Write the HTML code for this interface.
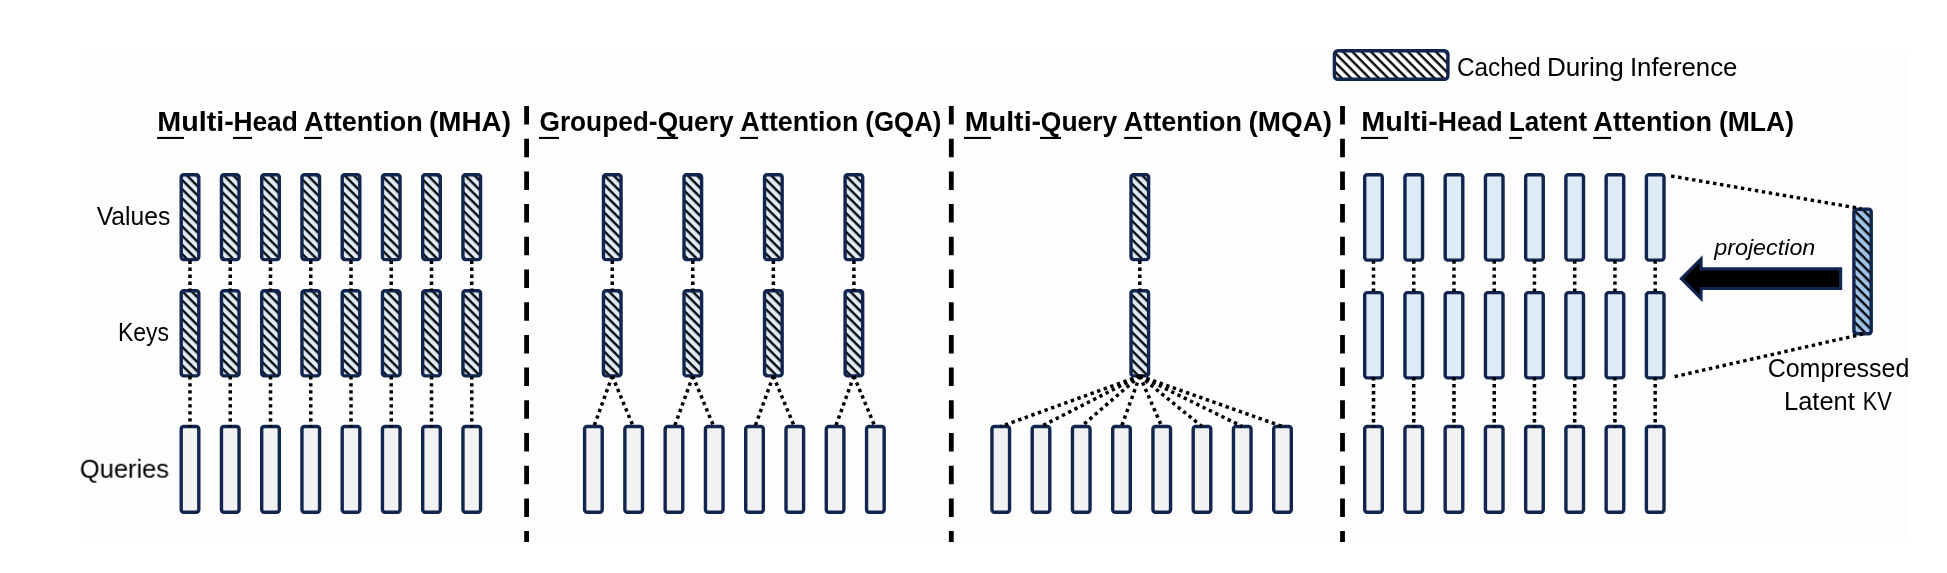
<!DOCTYPE html>
<html><head><meta charset="utf-8"><title>Attention variants</title>
<style>
html,body{margin:0;padding:0;background:#fff;}
body{width:1947px;height:573px;overflow:hidden;position:relative;}
svg{position:absolute;left:0;top:0;display:block;will-change:transform;}
text{font-family:"Liberation Sans",sans-serif;fill:#000;}
</style></head><body>
<svg width="1947" height="573" viewBox="0 0 1947 573">
<defs>
<pattern id="hb" patternUnits="userSpaceOnUse" width="6.558" height="10" patternTransform="rotate(-45)"><rect width="6.558" height="10" fill="#deeaf6"/><rect x="0.42" y="0" width="2.3" height="10" fill="#000"/></pattern>
<pattern id="hw" patternUnits="userSpaceOnUse" width="6.558" height="10" patternTransform="rotate(-45)"><rect width="6.558" height="10" fill="#fff"/><rect x="0.42" y="0" width="2.3" height="10" fill="#000"/></pattern>
<pattern id="hd" patternUnits="userSpaceOnUse" width="6.558" height="10" patternTransform="rotate(-45)"><rect width="6.558" height="10" fill="#9dc3e6"/><rect x="0.42" y="0" width="2.3" height="10" fill="#000"/></pattern>
</defs>
<rect x="0" y="0" width="1947" height="573" fill="#fff"/>
<rect x="80" y="49" width="1828" height="493.7" fill="#fdfdfd"/>
<rect x="181.20" y="174.80" width="17.60" height="84.80" rx="2.5" fill="url(#hb)" stroke="#11254f" stroke-width="3.4"/>
<rect x="181.20" y="290.70" width="17.60" height="85.20" rx="2.5" fill="url(#hb)" stroke="#11254f" stroke-width="3.4"/>
<rect x="181.20" y="426.50" width="17.60" height="85.80" rx="2.5" fill="#f2f2f2" stroke="#11254f" stroke-width="3.4"/>
<rect x="221.45" y="174.80" width="17.60" height="84.80" rx="2.5" fill="url(#hb)" stroke="#11254f" stroke-width="3.4"/>
<rect x="221.45" y="290.70" width="17.60" height="85.20" rx="2.5" fill="url(#hb)" stroke="#11254f" stroke-width="3.4"/>
<rect x="221.45" y="426.50" width="17.60" height="85.80" rx="2.5" fill="#f2f2f2" stroke="#11254f" stroke-width="3.4"/>
<rect x="261.70" y="174.80" width="17.60" height="84.80" rx="2.5" fill="url(#hb)" stroke="#11254f" stroke-width="3.4"/>
<rect x="261.70" y="290.70" width="17.60" height="85.20" rx="2.5" fill="url(#hb)" stroke="#11254f" stroke-width="3.4"/>
<rect x="261.70" y="426.50" width="17.60" height="85.80" rx="2.5" fill="#f2f2f2" stroke="#11254f" stroke-width="3.4"/>
<rect x="301.95" y="174.80" width="17.60" height="84.80" rx="2.5" fill="url(#hb)" stroke="#11254f" stroke-width="3.4"/>
<rect x="301.95" y="290.70" width="17.60" height="85.20" rx="2.5" fill="url(#hb)" stroke="#11254f" stroke-width="3.4"/>
<rect x="301.95" y="426.50" width="17.60" height="85.80" rx="2.5" fill="#f2f2f2" stroke="#11254f" stroke-width="3.4"/>
<rect x="342.20" y="174.80" width="17.60" height="84.80" rx="2.5" fill="url(#hb)" stroke="#11254f" stroke-width="3.4"/>
<rect x="342.20" y="290.70" width="17.60" height="85.20" rx="2.5" fill="url(#hb)" stroke="#11254f" stroke-width="3.4"/>
<rect x="342.20" y="426.50" width="17.60" height="85.80" rx="2.5" fill="#f2f2f2" stroke="#11254f" stroke-width="3.4"/>
<rect x="382.45" y="174.80" width="17.60" height="84.80" rx="2.5" fill="url(#hb)" stroke="#11254f" stroke-width="3.4"/>
<rect x="382.45" y="290.70" width="17.60" height="85.20" rx="2.5" fill="url(#hb)" stroke="#11254f" stroke-width="3.4"/>
<rect x="382.45" y="426.50" width="17.60" height="85.80" rx="2.5" fill="#f2f2f2" stroke="#11254f" stroke-width="3.4"/>
<rect x="422.70" y="174.80" width="17.60" height="84.80" rx="2.5" fill="url(#hb)" stroke="#11254f" stroke-width="3.4"/>
<rect x="422.70" y="290.70" width="17.60" height="85.20" rx="2.5" fill="url(#hb)" stroke="#11254f" stroke-width="3.4"/>
<rect x="422.70" y="426.50" width="17.60" height="85.80" rx="2.5" fill="#f2f2f2" stroke="#11254f" stroke-width="3.4"/>
<rect x="462.95" y="174.80" width="17.60" height="84.80" rx="2.5" fill="url(#hb)" stroke="#11254f" stroke-width="3.4"/>
<rect x="462.95" y="290.70" width="17.60" height="85.20" rx="2.5" fill="url(#hb)" stroke="#11254f" stroke-width="3.4"/>
<rect x="462.95" y="426.50" width="17.60" height="85.80" rx="2.5" fill="#f2f2f2" stroke="#11254f" stroke-width="3.4"/>
<rect x="603.45" y="174.80" width="17.60" height="84.80" rx="2.5" fill="url(#hb)" stroke="#11254f" stroke-width="3.4"/>
<rect x="603.45" y="290.70" width="17.60" height="85.20" rx="2.5" fill="url(#hb)" stroke="#11254f" stroke-width="3.4"/>
<rect x="684.00" y="174.80" width="17.60" height="84.80" rx="2.5" fill="url(#hb)" stroke="#11254f" stroke-width="3.4"/>
<rect x="684.00" y="290.70" width="17.60" height="85.20" rx="2.5" fill="url(#hb)" stroke="#11254f" stroke-width="3.4"/>
<rect x="764.55" y="174.80" width="17.60" height="84.80" rx="2.5" fill="url(#hb)" stroke="#11254f" stroke-width="3.4"/>
<rect x="764.55" y="290.70" width="17.60" height="85.20" rx="2.5" fill="url(#hb)" stroke="#11254f" stroke-width="3.4"/>
<rect x="845.10" y="174.80" width="17.60" height="84.80" rx="2.5" fill="url(#hb)" stroke="#11254f" stroke-width="3.4"/>
<rect x="845.10" y="290.70" width="17.60" height="85.20" rx="2.5" fill="url(#hb)" stroke="#11254f" stroke-width="3.4"/>
<rect x="584.60" y="426.50" width="17.60" height="85.80" rx="2.5" fill="#f2f2f2" stroke="#11254f" stroke-width="3.4"/>
<rect x="624.88" y="426.50" width="17.60" height="85.80" rx="2.5" fill="#f2f2f2" stroke="#11254f" stroke-width="3.4"/>
<rect x="665.16" y="426.50" width="17.60" height="85.80" rx="2.5" fill="#f2f2f2" stroke="#11254f" stroke-width="3.4"/>
<rect x="705.44" y="426.50" width="17.60" height="85.80" rx="2.5" fill="#f2f2f2" stroke="#11254f" stroke-width="3.4"/>
<rect x="745.72" y="426.50" width="17.60" height="85.80" rx="2.5" fill="#f2f2f2" stroke="#11254f" stroke-width="3.4"/>
<rect x="786.00" y="426.50" width="17.60" height="85.80" rx="2.5" fill="#f2f2f2" stroke="#11254f" stroke-width="3.4"/>
<rect x="826.28" y="426.50" width="17.60" height="85.80" rx="2.5" fill="#f2f2f2" stroke="#11254f" stroke-width="3.4"/>
<rect x="866.56" y="426.50" width="17.60" height="85.80" rx="2.5" fill="#f2f2f2" stroke="#11254f" stroke-width="3.4"/>
<rect x="1131.00" y="174.80" width="17.60" height="84.80" rx="2.5" fill="url(#hb)" stroke="#11254f" stroke-width="3.4"/>
<rect x="1131.00" y="290.70" width="17.60" height="85.20" rx="2.5" fill="url(#hb)" stroke="#11254f" stroke-width="3.4"/>
<rect x="991.95" y="426.50" width="17.60" height="85.80" rx="2.5" fill="#f2f2f2" stroke="#11254f" stroke-width="3.4"/>
<rect x="1032.20" y="426.50" width="17.60" height="85.80" rx="2.5" fill="#f2f2f2" stroke="#11254f" stroke-width="3.4"/>
<rect x="1072.45" y="426.50" width="17.60" height="85.80" rx="2.5" fill="#f2f2f2" stroke="#11254f" stroke-width="3.4"/>
<rect x="1112.70" y="426.50" width="17.60" height="85.80" rx="2.5" fill="#f2f2f2" stroke="#11254f" stroke-width="3.4"/>
<rect x="1152.95" y="426.50" width="17.60" height="85.80" rx="2.5" fill="#f2f2f2" stroke="#11254f" stroke-width="3.4"/>
<rect x="1193.20" y="426.50" width="17.60" height="85.80" rx="2.5" fill="#f2f2f2" stroke="#11254f" stroke-width="3.4"/>
<rect x="1233.45" y="426.50" width="17.60" height="85.80" rx="2.5" fill="#f2f2f2" stroke="#11254f" stroke-width="3.4"/>
<rect x="1273.70" y="426.50" width="17.60" height="85.80" rx="2.5" fill="#f2f2f2" stroke="#11254f" stroke-width="3.4"/>
<rect x="1364.70" y="174.80" width="17.60" height="85.30" rx="2.5" fill="#deeaf6" stroke="#11254f" stroke-width="3.4"/>
<rect x="1364.70" y="292.60" width="17.60" height="85.30" rx="2.5" fill="#deeaf6" stroke="#11254f" stroke-width="3.4"/>
<rect x="1364.70" y="426.50" width="17.60" height="85.80" rx="2.5" fill="#f2f2f2" stroke="#11254f" stroke-width="3.4"/>
<rect x="1404.94" y="174.80" width="17.60" height="85.30" rx="2.5" fill="#deeaf6" stroke="#11254f" stroke-width="3.4"/>
<rect x="1404.94" y="292.60" width="17.60" height="85.30" rx="2.5" fill="#deeaf6" stroke="#11254f" stroke-width="3.4"/>
<rect x="1404.94" y="426.50" width="17.60" height="85.80" rx="2.5" fill="#f2f2f2" stroke="#11254f" stroke-width="3.4"/>
<rect x="1445.18" y="174.80" width="17.60" height="85.30" rx="2.5" fill="#deeaf6" stroke="#11254f" stroke-width="3.4"/>
<rect x="1445.18" y="292.60" width="17.60" height="85.30" rx="2.5" fill="#deeaf6" stroke="#11254f" stroke-width="3.4"/>
<rect x="1445.18" y="426.50" width="17.60" height="85.80" rx="2.5" fill="#f2f2f2" stroke="#11254f" stroke-width="3.4"/>
<rect x="1485.42" y="174.80" width="17.60" height="85.30" rx="2.5" fill="#deeaf6" stroke="#11254f" stroke-width="3.4"/>
<rect x="1485.42" y="292.60" width="17.60" height="85.30" rx="2.5" fill="#deeaf6" stroke="#11254f" stroke-width="3.4"/>
<rect x="1485.42" y="426.50" width="17.60" height="85.80" rx="2.5" fill="#f2f2f2" stroke="#11254f" stroke-width="3.4"/>
<rect x="1525.66" y="174.80" width="17.60" height="85.30" rx="2.5" fill="#deeaf6" stroke="#11254f" stroke-width="3.4"/>
<rect x="1525.66" y="292.60" width="17.60" height="85.30" rx="2.5" fill="#deeaf6" stroke="#11254f" stroke-width="3.4"/>
<rect x="1525.66" y="426.50" width="17.60" height="85.80" rx="2.5" fill="#f2f2f2" stroke="#11254f" stroke-width="3.4"/>
<rect x="1565.90" y="174.80" width="17.60" height="85.30" rx="2.5" fill="#deeaf6" stroke="#11254f" stroke-width="3.4"/>
<rect x="1565.90" y="292.60" width="17.60" height="85.30" rx="2.5" fill="#deeaf6" stroke="#11254f" stroke-width="3.4"/>
<rect x="1565.90" y="426.50" width="17.60" height="85.80" rx="2.5" fill="#f2f2f2" stroke="#11254f" stroke-width="3.4"/>
<rect x="1606.14" y="174.80" width="17.60" height="85.30" rx="2.5" fill="#deeaf6" stroke="#11254f" stroke-width="3.4"/>
<rect x="1606.14" y="292.60" width="17.60" height="85.30" rx="2.5" fill="#deeaf6" stroke="#11254f" stroke-width="3.4"/>
<rect x="1606.14" y="426.50" width="17.60" height="85.80" rx="2.5" fill="#f2f2f2" stroke="#11254f" stroke-width="3.4"/>
<rect x="1646.38" y="174.80" width="17.60" height="85.30" rx="2.5" fill="#deeaf6" stroke="#11254f" stroke-width="3.4"/>
<rect x="1646.38" y="292.60" width="17.60" height="85.30" rx="2.5" fill="#deeaf6" stroke="#11254f" stroke-width="3.4"/>
<rect x="1646.38" y="426.50" width="17.60" height="85.80" rx="2.5" fill="#f2f2f2" stroke="#11254f" stroke-width="3.4"/>
<rect x="1853.90" y="209.30" width="17.30" height="124.40" rx="2.5" fill="url(#hd)" stroke="#11254f" stroke-width="3.4"/>
<line x1="190.00" y1="260.50" x2="190.00" y2="290.80" stroke="#000" stroke-width="3.5" stroke-dasharray="3.4 3.6" stroke-dashoffset="0"/>
<line x1="190.00" y1="376.20" x2="190.00" y2="427.30" stroke="#000" stroke-width="3.5" stroke-dasharray="3.4 3.6" stroke-dashoffset="0"/>
<line x1="230.25" y1="260.50" x2="230.25" y2="290.80" stroke="#000" stroke-width="3.5" stroke-dasharray="3.4 3.6" stroke-dashoffset="0"/>
<line x1="230.25" y1="376.20" x2="230.25" y2="427.30" stroke="#000" stroke-width="3.5" stroke-dasharray="3.4 3.6" stroke-dashoffset="0"/>
<line x1="270.50" y1="260.50" x2="270.50" y2="290.80" stroke="#000" stroke-width="3.5" stroke-dasharray="3.4 3.6" stroke-dashoffset="0"/>
<line x1="270.50" y1="376.20" x2="270.50" y2="427.30" stroke="#000" stroke-width="3.5" stroke-dasharray="3.4 3.6" stroke-dashoffset="0"/>
<line x1="310.75" y1="260.50" x2="310.75" y2="290.80" stroke="#000" stroke-width="3.5" stroke-dasharray="3.4 3.6" stroke-dashoffset="0"/>
<line x1="310.75" y1="376.20" x2="310.75" y2="427.30" stroke="#000" stroke-width="3.5" stroke-dasharray="3.4 3.6" stroke-dashoffset="0"/>
<line x1="351.00" y1="260.50" x2="351.00" y2="290.80" stroke="#000" stroke-width="3.5" stroke-dasharray="3.4 3.6" stroke-dashoffset="0"/>
<line x1="351.00" y1="376.20" x2="351.00" y2="427.30" stroke="#000" stroke-width="3.5" stroke-dasharray="3.4 3.6" stroke-dashoffset="0"/>
<line x1="391.25" y1="260.50" x2="391.25" y2="290.80" stroke="#000" stroke-width="3.5" stroke-dasharray="3.4 3.6" stroke-dashoffset="0"/>
<line x1="391.25" y1="376.20" x2="391.25" y2="427.30" stroke="#000" stroke-width="3.5" stroke-dasharray="3.4 3.6" stroke-dashoffset="0"/>
<line x1="431.50" y1="260.50" x2="431.50" y2="290.80" stroke="#000" stroke-width="3.5" stroke-dasharray="3.4 3.6" stroke-dashoffset="0"/>
<line x1="431.50" y1="376.20" x2="431.50" y2="427.30" stroke="#000" stroke-width="3.5" stroke-dasharray="3.4 3.6" stroke-dashoffset="0"/>
<line x1="471.75" y1="260.50" x2="471.75" y2="290.80" stroke="#000" stroke-width="3.5" stroke-dasharray="3.4 3.6" stroke-dashoffset="0"/>
<line x1="471.75" y1="376.20" x2="471.75" y2="427.30" stroke="#000" stroke-width="3.5" stroke-dasharray="3.4 3.6" stroke-dashoffset="0"/>
<line x1="612.25" y1="260.50" x2="612.25" y2="290.80" stroke="#000" stroke-width="3.5" stroke-dasharray="3.4 3.6" stroke-dashoffset="0"/>
<line x1="612.25" y1="376.00" x2="593.90" y2="426.50" stroke="#000" stroke-width="3.5" stroke-dasharray="3.4 3.6" stroke-dashoffset="0"/>
<line x1="612.25" y1="376.00" x2="633.18" y2="426.50" stroke="#000" stroke-width="3.5" stroke-dasharray="3.4 3.6" stroke-dashoffset="0"/>
<line x1="692.80" y1="260.50" x2="692.80" y2="290.80" stroke="#000" stroke-width="3.5" stroke-dasharray="3.4 3.6" stroke-dashoffset="0"/>
<line x1="692.80" y1="376.00" x2="674.46" y2="426.50" stroke="#000" stroke-width="3.5" stroke-dasharray="3.4 3.6" stroke-dashoffset="0"/>
<line x1="692.80" y1="376.00" x2="713.74" y2="426.50" stroke="#000" stroke-width="3.5" stroke-dasharray="3.4 3.6" stroke-dashoffset="0"/>
<line x1="773.35" y1="260.50" x2="773.35" y2="290.80" stroke="#000" stroke-width="3.5" stroke-dasharray="3.4 3.6" stroke-dashoffset="0"/>
<line x1="773.35" y1="376.00" x2="755.02" y2="426.50" stroke="#000" stroke-width="3.5" stroke-dasharray="3.4 3.6" stroke-dashoffset="0"/>
<line x1="773.35" y1="376.00" x2="794.30" y2="426.50" stroke="#000" stroke-width="3.5" stroke-dasharray="3.4 3.6" stroke-dashoffset="0"/>
<line x1="853.90" y1="260.50" x2="853.90" y2="290.80" stroke="#000" stroke-width="3.5" stroke-dasharray="3.4 3.6" stroke-dashoffset="0"/>
<line x1="853.90" y1="376.00" x2="835.58" y2="426.50" stroke="#000" stroke-width="3.5" stroke-dasharray="3.4 3.6" stroke-dashoffset="0"/>
<line x1="853.90" y1="376.00" x2="874.86" y2="426.50" stroke="#000" stroke-width="3.5" stroke-dasharray="3.4 3.6" stroke-dashoffset="0"/>
<line x1="1139.80" y1="260.50" x2="1139.80" y2="290.80" stroke="#000" stroke-width="3.5" stroke-dasharray="3.4 3.6" stroke-dashoffset="0"/>
<line x1="1139.80" y1="376.00" x2="1000.75" y2="426.50" stroke="#000" stroke-width="3.5" stroke-dasharray="3.4 3.6" stroke-dashoffset="0"/>
<line x1="1139.80" y1="376.00" x2="1041.00" y2="426.50" stroke="#000" stroke-width="3.5" stroke-dasharray="3.4 3.6" stroke-dashoffset="0"/>
<line x1="1139.80" y1="376.00" x2="1081.25" y2="426.50" stroke="#000" stroke-width="3.5" stroke-dasharray="3.4 3.6" stroke-dashoffset="0"/>
<line x1="1139.80" y1="376.00" x2="1121.50" y2="426.50" stroke="#000" stroke-width="3.5" stroke-dasharray="3.4 3.6" stroke-dashoffset="0"/>
<line x1="1139.80" y1="376.00" x2="1161.75" y2="426.50" stroke="#000" stroke-width="3.5" stroke-dasharray="3.4 3.6" stroke-dashoffset="0"/>
<line x1="1139.80" y1="376.00" x2="1202.00" y2="426.50" stroke="#000" stroke-width="3.5" stroke-dasharray="3.4 3.6" stroke-dashoffset="0"/>
<line x1="1139.80" y1="376.00" x2="1242.25" y2="426.50" stroke="#000" stroke-width="3.5" stroke-dasharray="3.4 3.6" stroke-dashoffset="0"/>
<line x1="1139.80" y1="376.00" x2="1282.50" y2="426.50" stroke="#000" stroke-width="3.5" stroke-dasharray="3.4 3.6" stroke-dashoffset="0"/>
<line x1="1373.50" y1="260.40" x2="1373.50" y2="292.50" stroke="#000" stroke-width="3.5" stroke-dasharray="3.4 3.6" stroke-dashoffset="0"/>
<line x1="1373.50" y1="377.00" x2="1373.50" y2="427.30" stroke="#000" stroke-width="3.5" stroke-dasharray="3.4 3.6" stroke-dashoffset="0"/>
<line x1="1413.74" y1="260.40" x2="1413.74" y2="292.50" stroke="#000" stroke-width="3.5" stroke-dasharray="3.4 3.6" stroke-dashoffset="0"/>
<line x1="1413.74" y1="377.00" x2="1413.74" y2="427.30" stroke="#000" stroke-width="3.5" stroke-dasharray="3.4 3.6" stroke-dashoffset="0"/>
<line x1="1453.98" y1="260.40" x2="1453.98" y2="292.50" stroke="#000" stroke-width="3.5" stroke-dasharray="3.4 3.6" stroke-dashoffset="0"/>
<line x1="1453.98" y1="377.00" x2="1453.98" y2="427.30" stroke="#000" stroke-width="3.5" stroke-dasharray="3.4 3.6" stroke-dashoffset="0"/>
<line x1="1494.22" y1="260.40" x2="1494.22" y2="292.50" stroke="#000" stroke-width="3.5" stroke-dasharray="3.4 3.6" stroke-dashoffset="0"/>
<line x1="1494.22" y1="377.00" x2="1494.22" y2="427.30" stroke="#000" stroke-width="3.5" stroke-dasharray="3.4 3.6" stroke-dashoffset="0"/>
<line x1="1534.46" y1="260.40" x2="1534.46" y2="292.50" stroke="#000" stroke-width="3.5" stroke-dasharray="3.4 3.6" stroke-dashoffset="0"/>
<line x1="1534.46" y1="377.00" x2="1534.46" y2="427.30" stroke="#000" stroke-width="3.5" stroke-dasharray="3.4 3.6" stroke-dashoffset="0"/>
<line x1="1574.70" y1="260.40" x2="1574.70" y2="292.50" stroke="#000" stroke-width="3.5" stroke-dasharray="3.4 3.6" stroke-dashoffset="0"/>
<line x1="1574.70" y1="377.00" x2="1574.70" y2="427.30" stroke="#000" stroke-width="3.5" stroke-dasharray="3.4 3.6" stroke-dashoffset="0"/>
<line x1="1614.94" y1="260.40" x2="1614.94" y2="292.50" stroke="#000" stroke-width="3.5" stroke-dasharray="3.4 3.6" stroke-dashoffset="0"/>
<line x1="1614.94" y1="377.00" x2="1614.94" y2="427.30" stroke="#000" stroke-width="3.5" stroke-dasharray="3.4 3.6" stroke-dashoffset="0"/>
<line x1="1655.18" y1="260.40" x2="1655.18" y2="292.50" stroke="#000" stroke-width="3.5" stroke-dasharray="3.4 3.6" stroke-dashoffset="0"/>
<line x1="1655.18" y1="377.00" x2="1655.18" y2="427.30" stroke="#000" stroke-width="3.5" stroke-dasharray="3.4 3.6" stroke-dashoffset="0"/>
<line x1="1671.10" y1="176.00" x2="1861.40" y2="208.70" stroke="#000" stroke-width="3.4" stroke-dasharray="3.45 3.63" stroke-dashoffset="0"/>
<line x1="1674.60" y1="376.60" x2="1863.30" y2="333.90" stroke="#000" stroke-width="3.4" stroke-dasharray="3.45 3.58" stroke-dashoffset="0"/>
<path d="M1681.5,278.7 L1701,259.09999999999997 L1701,268.9 L1840.6,268.9 L1840.6,288.5 L1701,288.5 L1701,298.3 Z" fill="#000" stroke="#11254f" stroke-width="3.2" stroke-linejoin="miter"/>
<rect x="1334.4" y="50.7" width="113.5" height="28.6" rx="3.6" fill="url(#hw)" stroke="#11254f" stroke-width="3.4"/>
<line x1="526.6" y1="106" x2="526.6" y2="541.9" stroke="#000" stroke-width="4.8" stroke-dasharray="18.5 14.2"/>
<line x1="951.3" y1="106" x2="951.3" y2="541.9" stroke="#000" stroke-width="4.8" stroke-dasharray="18.5 14.2"/>
<line x1="1342.5" y1="106" x2="1342.5" y2="541.9" stroke="#000" stroke-width="4.8" stroke-dasharray="18.5 14.2"/>
<g style="filter:grayscale(1)">
<text transform="translate(157.35,130.9) scale(1.0252,1)" font-size="28.0" font-weight="bold" font-style="normal">Multi-</text>
<text transform="translate(233.42,130.9) scale(0.9411,1)" font-size="28.0" font-weight="bold" font-style="normal">Head</text>
<text transform="translate(304.28,130.9) scale(0.9647,1)" font-size="28.0" font-weight="bold" font-style="normal">Attention</text>
<text transform="translate(429.01,130.9) scale(0.9950,1)" font-size="28.0" font-weight="bold" font-style="normal">(MHA)</text>
<text transform="translate(539.53,130.9) scale(0.9366,1)" font-size="28.0" font-weight="bold" font-style="normal">Grouped-</text>
<text transform="translate(657.63,130.9) scale(0.9384,1)" font-size="28.0" font-weight="bold" font-style="normal">Query</text>
<text transform="translate(740.58,130.9) scale(0.9588,1)" font-size="28.0" font-weight="bold" font-style="normal">Attention</text>
<text transform="translate(865.31,130.9) scale(0.9245,1)" font-size="28.0" font-weight="bold" font-style="normal">(GQA)</text>
<text transform="translate(964.86,130.9) scale(1.0224,1)" font-size="28.0" font-weight="bold" font-style="normal">Multi-</text>
<text transform="translate(1040.82,130.9) scale(0.9447,1)" font-size="28.0" font-weight="bold" font-style="normal">Query</text>
<text transform="translate(1123.78,130.9) scale(0.9630,1)" font-size="28.0" font-weight="bold" font-style="normal">Attention</text>
<text transform="translate(1248.51,130.9) scale(0.9963,1)" font-size="28.0" font-weight="bold" font-style="normal">(MQA)</text>
<text transform="translate(1361.24,130.9) scale(1.0280,1)" font-size="28.0" font-weight="bold" font-style="normal">Multi-</text>
<text transform="translate(1437.70,130.9) scale(0.9488,1)" font-size="28.0" font-weight="bold" font-style="normal">Head</text>
<text transform="translate(1508.94,130.9) scale(0.9321,1)" font-size="28.0" font-weight="bold" font-style="normal">Latent</text>
<text transform="translate(1593.58,130.9) scale(0.9647,1)" font-size="28.0" font-weight="bold" font-style="normal">Attention</text>
<text transform="translate(1718.88,130.9) scale(0.9477,1)" font-size="28.0" font-weight="bold" font-style="normal">(MLA)</text>
<text transform="translate(96.76,224.6) scale(0.9635,1)" font-size="25.6" font-weight="normal" font-style="normal">Values</text>
<text transform="translate(117.90,340.6) scale(0.8981,1)" font-size="25.6" font-weight="normal" font-style="normal">Keys</text>
<text transform="translate(79.75,477.7) scale(0.9966,1)" font-size="25.6" font-weight="normal" font-style="normal">Queries</text>
<text transform="translate(1456.91,75.7) scale(0.9525,1)" font-size="25.6" font-weight="normal" font-style="normal">Cached</text>
<text transform="translate(1546.96,75.7) scale(1.0202,1)" font-size="25.6" font-weight="normal" font-style="normal">During</text>
<text transform="translate(1629.93,75.7) scale(1.0073,1)" font-size="25.6" font-weight="normal" font-style="normal">Inference</text>
<text transform="translate(1714.23,255.0) scale(1.0607,1)" font-size="22.0" font-weight="normal" font-style="italic">projection</text>
<text transform="translate(1767.68,377.4) scale(0.9764,1)" font-size="25.6" font-weight="normal" font-style="normal">Compressed</text>
<text transform="translate(1784.01,410.4) scale(0.9957,1)" font-size="25.6" font-weight="normal" font-style="normal">Latent</text>
<text transform="translate(1862.80,410.4) scale(0.8500,1)" font-size="25.6" font-weight="normal" font-style="normal">KV</text>
</g>
<rect x="157.1" y="136.9" width="26.9" height="2.1" fill="#000"/>
<rect x="233" y="136.9" width="19.0" height="2.1" fill="#000"/>
<rect x="304" y="136.9" width="18.0" height="2.1" fill="#000"/>
<rect x="539" y="136.9" width="20.0" height="2.1" fill="#000"/>
<rect x="657.1" y="136.9" width="20.9" height="2.1" fill="#000"/>
<rect x="740.2" y="136.9" width="17.8" height="2.1" fill="#000"/>
<rect x="964" y="136.9" width="27.0" height="2.1" fill="#000"/>
<rect x="1040" y="136.9" width="21.0" height="2.1" fill="#000"/>
<rect x="1124.2" y="136.9" width="17.8" height="2.1" fill="#000"/>
<rect x="1361" y="136.9" width="27.0" height="2.1" fill="#000"/>
<rect x="1509.2" y="136.9" width="12.7" height="2.1" fill="#000"/>
<rect x="1593.2" y="136.9" width="17.8" height="2.1" fill="#000"/>
</svg>
</body></html>
